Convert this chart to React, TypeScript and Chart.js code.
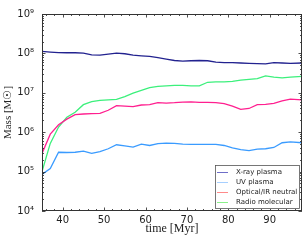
import React, { useEffect, useRef } from 'react';
import { Chart, registerables } from 'chart.js';

Chart.register(...registerables);

// time [Myr]
const times = [35, 37, 39, 41, 43, 45, 47, 49, 51, 53, 55, 57, 59, 61, 63, 65, 67, 69, 71, 73, 75, 77, 79, 81, 83, 85, 87, 89, 91, 93, 95, 97.8];

const xrayPlasma = [1.12e8, 1.08e8, 1.05e8, 1.04e8, 1.04e8, 1.02e8, 9.2e7, 9.0e7, 9.6e7, 1.02e8, 9.8e7, 9.0e7, 8.7e7, 8.4e7, 7.8e7, 7.2e7, 6.6e7, 6.4e7, 6.5e7, 6.6e7, 6.5e7, 6.0e7, 5.8e7, 5.8e7, 5.7e7, 5.6e7, 5.5e7, 5.4e7, 5.8e7, 5.7e7, 5.6e7, 5.7e7];

const uvPlasma = [8.5e4, 1.2e5, 3.1e5, 3.05e5, 3.1e5, 3.3e5, 2.9e5, 3.2e5, 3.8e5, 4.8e5, 4.5e5, 4.2e5, 5.0e5, 4.6e5, 5.1e5, 5.3e5, 5.2e5, 5.0e5, 4.9e5, 4.9e5, 4.9e5, 4.9e5, 4.6e5, 4.0e5, 3.6e5, 3.4e5, 3.7e5, 3.8e5, 4.1e5, 5.4e5, 5.7e5, 5.4e5];

const opticalNeutral = [2.9e5, 8.9e5, 1.55e6, 2.15e6, 2.8e6, 2.9e6, 2.95e6, 3.0e6, 3.6e6, 4.7e6, 4.6e6, 4.45e6, 4.9e6, 5.0e6, 5.6e6, 5.5e6, 5.6e6, 5.8e6, 5.9e6, 5.7e6, 5.7e6, 5.6e6, 5.3e6, 4.6e6, 3.8e6, 4.0e6, 5.0e6, 5.1e6, 5.4e6, 6.2e6, 6.9e6, 6.6e6];

const radioMolecular = [1.0e5, 5.2e5, 1.35e6, 2.4e6, 3.2e6, 5.0e6, 6.0e6, 6.4e6, 6.6e6, 6.8e6, 8.0e6, 9.8e6, 1.15e7, 1.35e7, 1.45e7, 1.5e7, 1.55e7, 1.55e7, 1.5e7, 1.5e7, 1.85e7, 1.9e7, 1.9e7, 1.95e7, 2.1e7, 2.2e7, 2.3e7, 2.7e7, 2.5e7, 2.4e7, 2.5e7, 2.6e7];

const seriesLabels = ['X-ray plasma', 'UV plasma', 'Optical/IR neutral', 'Radio molecular'];
const seriesValues = [xrayPlasma, uvPlasma, opticalNeutral, radioMolecular];
const lineColors = ['#22228f', '#3a9bff', '#ff1f8f', '#3cf07c'];
const legendColors = ['#6e6ec8', '#a6cfff', '#ff8a8a', '#8af08a'];

const xMajorTicks = [40, 50, 60, 70, 80, 90];
const xMinorTicks = [36, 38, 42, 44, 46, 48, 52, 54, 56, 58, 62, 64, 66, 68, 72, 74, 76, 78, 82, 84, 86, 88, 92, 94, 96];
const yDecades = [4, 5, 6, 7, 8, 9];
const supDigits: Record<string, string> = { '0': '⁰', '1': '¹', '2': '²', '3': '³', '4': '⁴', '5': '⁵', '6': '⁶', '7': '⁷', '8': '⁸', '9': '⁹' };

const X_MIN = 35;
const X_MAX = 97.8;

const framePlugin = {
  id: 'frameTicks',
  afterDatasetsDraw(chart: any) {
    const { ctx, chartArea: a, scales } = chart;
    const x = scales.x;
    const y = scales.y;
    ctx.save();
    ctx.strokeStyle = '#222';
    ctx.lineWidth = 0.8;
    ctx.beginPath();
    const xt = (v: number, len: number) => {
      const px = Math.round(x.getPixelForValue(v)) + 0.5;
      ctx.moveTo(px, a.bottom);
      ctx.lineTo(px, a.bottom - len);
      ctx.moveTo(px, a.top);
      ctx.lineTo(px, a.top + len);
    };
    const yt = (v: number, len: number) => {
      const py = Math.round(y.getPixelForValue(v)) + 0.5;
      ctx.moveTo(a.left, py);
      ctx.lineTo(a.left + len, py);
      ctx.moveTo(a.right, py);
      ctx.lineTo(a.right - len, py);
    };
    xMajorTicks.forEach((v) => xt(v, 3.5));
    xMinorTicks.forEach((v) => xt(v, 2));
    yDecades.forEach((d) => {
      yt(Math.pow(10, d), 3.5);
      if (d < 9) {
        for (let m = 2; m <= 9; m++) yt(m * Math.pow(10, d), 2);
      }
    });
    ctx.stroke();
    ctx.lineWidth = 1;
    ctx.strokeStyle = '#333';
    ctx.strokeRect(a.left + 0.5, a.top + 0.5, a.right - a.left - 1, a.bottom - a.top - 1);
    ctx.restore();
  },
};

const legendPlugin = {
  id: 'insetLegend',
  afterDraw(chart: any) {
    const { ctx, chartArea: a } = chart;
    const w = 85;
    const h = 44;
    const bx = a.right - 2 - w;
    const by = a.bottom - 2 - h;
    ctx.save();
    ctx.fillStyle = '#ffffff';
    ctx.fillRect(bx, by, w, h);
    ctx.strokeStyle = '#555';
    ctx.lineWidth = 0.8;
    ctx.strokeRect(bx + 0.5, by + 0.5, w - 1, h - 1);
    ctx.font = '7px "DejaVu Sans"';
    ctx.textBaseline = 'middle';
    ctx.textAlign = 'left';
    seriesLabels.forEach((label, i) => {
      const cy = by + 7 + i * 10;
      ctx.strokeStyle = legendColors[i];
      ctx.lineWidth = 1;
      ctx.beginPath();
      ctx.moveTo(bx + 2, cy + 0.5);
      ctx.lineTo(bx + 13, cy + 0.5);
      ctx.stroke();
      ctx.fillStyle = '#222';
      ctx.fillText(label, bx + 21, cy + 0.5);
    });
    ctx.restore();
  },
};

export default function App() {
  const canvasRef = useRef<HTMLCanvasElement | null>(null);

  useEffect(() => {
    document.body.style.margin = '0';
    const canvas = canvasRef.current;
    if (!canvas) return;
    const chart = new Chart(canvas, {
      type: 'line',
      data: {
        datasets: seriesLabels.map((label, i) => ({
          label,
          data: times.map((t, j) => ({ x: t, y: seriesValues[i][j] })),
          borderColor: lineColors[i],
          backgroundColor: lineColors[i],
          borderWidth: 1.3,
          pointRadius: 0,
          tension: 0,
          fill: false,
        })),
      },
      options: {
        responsive: false,
        animation: false,
        devicePixelRatio: 1,
        layout: { padding: { top: 9, right: 4, left: 0, bottom: 0 } },
        plugins: {
          legend: { display: false },
          tooltip: { enabled: false },
        },
        scales: {
          x: {
            type: 'linear',
            min: X_MIN,
            max: X_MAX,
            grid: { display: false, drawTicks: false },
            border: { display: false },
            afterBuildTicks: (s: any) => {
              s.ticks = xMajorTicks.map((v) => ({ value: v }));
            },
            afterFit: (s: any) => {
              s.height = 29;
            },
            ticks: {
              padding: 3,
              color: '#222',
              font: { family: '"DejaVu Sans"', size: 10 },
              maxRotation: 0,
              autoSkip: false,
              callback: (v: any) => String(v),
            },
            title: {
              display: true,
              text: 'time [Myr]',
              color: '#222',
              font: { family: '"Liberation Serif"', size: 12 },
              padding: { top: 0, bottom: 4 },
            },
          },
          y: {
            type: 'logarithmic',
            min: 1e4,
            max: 1e9,
            grid: { display: false, drawTicks: false },
            border: { display: false },
            afterBuildTicks: (s: any) => {
              s.ticks = yDecades.map((d) => ({ value: Math.pow(10, d), major: true }));
            },
            afterFit: (s: any) => {
              s.width = 42;
            },
            ticks: {
              padding: 8,
              color: '#222',
              font: { family: '"DejaVu Sans"', size: 10 },
              autoSkip: false,
              callback: (v: any) => {
                const e = Math.round(Math.log10(Number(v)));
                return '10' + String(e).split('').map((c) => supDigits[c]).join('');
              },
            },
            title: {
              display: true,
              text: 'Mass [M☉]',
              color: '#222',
              font: { family: '"Liberation Serif"', size: 11 },
              padding: { top: 2, bottom: 0 },
            },
          },
        },
      },
      plugins: [framePlugin, legendPlugin],
    } as any);
    return () => chart.destroy();
  }, []);

  return <canvas ref={canvasRef} width={306} height={240} style={{ display: 'block' }} />;
}
